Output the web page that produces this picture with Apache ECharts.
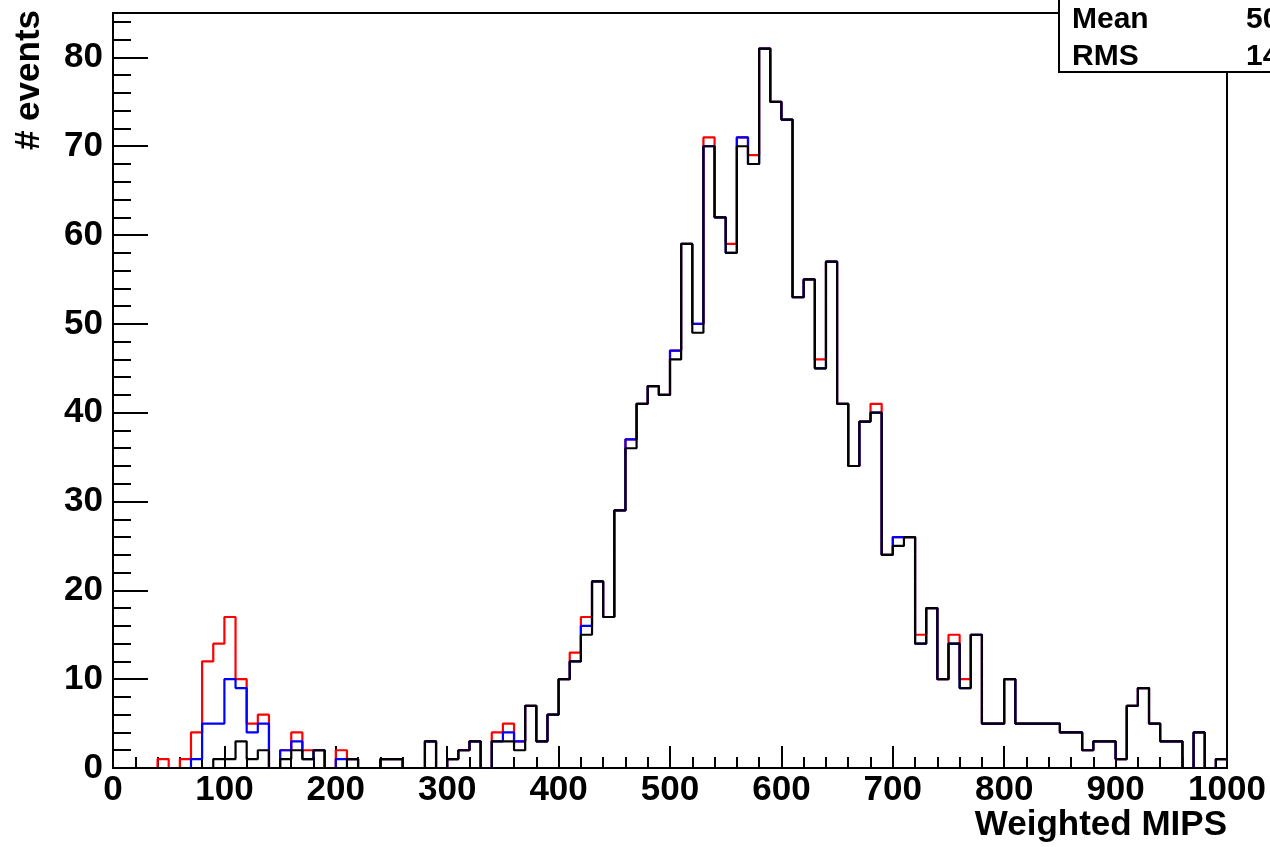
<!DOCTYPE html>
<html>
<head>
<meta charset="utf-8">
<title>Weighted MIPS</title>
<script src="https://cdn.jsdelivr.net/npm/echarts@6.0.0/dist/echarts.min.js"></script>
<style>
    html, body { margin: 0; padding: 0; background: #fff; }
    #hist-container { width: 1270px; height: 847px; }
</style>
</head>
<body>
<div id="hist-container"></div>
<script>
// 100 bins of 10 MIPS from 0 to 1000
var BIN_LOW = 0;
var BIN_WIDTH = 10;

// red histogram (drawn first)
var redCounts = [
    0, 0, 0, 0, 1, 0, 1, 4, 12, 14,
    17, 10, 5, 6, 0, 2, 4, 2, 2, 0,
    2, 1, 0, 0, 1, 1, 0, 0, 3, 0,
    1, 2, 3, 0, 4, 5, 3, 7, 3, 6,
    10, 13, 17, 21, 17, 29, 37, 41, 43, 42,
    47, 59, 50, 71, 62, 59, 71, 69, 81, 75,
    73, 53, 55, 46, 57, 41, 34, 39, 41, 24,
    26, 26, 15, 18, 10, 15, 10, 15, 5, 5,
    10, 5, 5, 5, 5, 4, 4, 2, 3, 3,
    1, 7, 9, 5, 3, 3, 0, 4, 0, 1
];
// blue histogram
var blueCounts = [
    0, 0, 0, 0, 0, 0, 0, 1, 5, 5,
    10, 9, 4, 5, 0, 2, 3, 1, 2, 0,
    1, 1, 0, 0, 1, 1, 0, 0, 3, 0,
    1, 2, 3, 0, 3, 4, 3, 7, 3, 6,
    10, 12, 16, 21, 17, 29, 37, 41, 43, 42,
    47, 59, 50, 70, 62, 58, 71, 68, 81, 75,
    73, 53, 55, 45, 57, 41, 34, 39, 40, 24,
    26, 26, 14, 18, 10, 14, 9, 15, 5, 5,
    10, 5, 5, 5, 5, 4, 4, 2, 3, 3,
    1, 7, 9, 5, 3, 3, 0, 4, 0, 1
];
// black histogram (drawn last, on top)
var blackCounts = [
    0, 0, 0, 0, 0, 0, 0, 0, 0, 1,
    1, 3, 1, 2, 0, 1, 2, 1, 2, 0,
    0, 1, 0, 0, 1, 1, 0, 0, 3, 0,
    1, 2, 3, 0, 3, 3, 2, 7, 3, 6,
    10, 12, 15, 21, 17, 29, 36, 41, 43, 42,
    46, 59, 49, 70, 62, 58, 70, 68, 81, 75,
    73, 53, 55, 45, 57, 41, 34, 39, 40, 24,
    25, 26, 14, 18, 10, 14, 9, 15, 5, 5,
    10, 5, 5, 5, 5, 4, 4, 2, 3, 3,
    1, 7, 9, 5, 3, 3, 0, 4, 0, 1
];

// stats box (only the start of the numbers fits in the picture)
var statNames = ['Mean', 'RMS'];
var statValues = ['50', '14'];

var X_MIN = 0, X_MAX = 1000, X_STEP = 100;
var Y_MIN = 0, Y_MAX = 85, Y_STEP = 10, Y_MINOR = 2;

(function() {
    var FONT = '"Liberation Sans", Arial, Helvetica, sans-serif';
    var extend = function(a, b) { for (var k in b) { a[k] = b[k]; } return a; };
    var hist = {
        /**
         * 页面初始化
         */
        pageReady: function() {
            var me = this;
            var myChart = echarts.init(document.getElementById('hist-container'), null, { renderer: 'canvas' });
            myChart.setOption(me._option());
        },
        /**
         * turn bin counts into step points: [left edge, count] + closing point
         */
        _steps: function(counts) {
            var pts = counts.map(function(v, i) {
                return [BIN_LOW + i * BIN_WIDTH, v];
            });
            pts.push([BIN_LOW + counts.length * BIN_WIDTH, counts[counts.length - 1]]);
            return pts;
        },
        _series: function(name, counts, color) {
            return {
                name: name,
                type: 'line',
                step: 'end',
                symbol: 'none',
                silent: true,
                lineStyle: { color: color, width: 2.2 },
                data: this._steps(counts)
            };
        },
        _statsBox: function() {
            var els = [{
                type: 'rect',
                z: 100,
                shape: { x: 1059, y: -4, width: 260, height: 76 },
                style: { fill: '#fff', stroke: '#000', lineWidth: 2 }
            }];
            statNames.forEach(function(n, i) {
                var y = 20 + i * 37;
                els.push({
                    type: 'text', z: 101, x: 1072, y: y,
                    style: { text: n, font: 'bold 30px ' + FONT, fill: '#000', textAlign: 'left', textVerticalAlign: 'middle' }
                });
                els.push({
                    type: 'text', z: 101, x: 1246, y: y,
                    style: { text: statValues[i], font: 'bold 30px ' + FONT, fill: '#000', textAlign: 'left', textVerticalAlign: 'middle' }
                });
            });
            return els;
        },
        _option: function() {
            var me = this;
            var labelStyle = { color: '#000', fontFamily: FONT, fontWeight: 'bold', fontSize: 35 };
            return {
                animation: false,
                backgroundColor: '#fff',
                grid: {
                    left: 113, right: 43, top: 13, bottom: 79,
                    containLabel: false,
                    outerBoundsMode: 'none',
                    show: true, borderColor: '#000', borderWidth: 2, backgroundColor: 'transparent'
                },
                xAxis: {
                    type: 'value',
                    min: X_MIN, max: X_MAX, interval: X_STEP,
                    name: 'Weighted MIPS',
                    nameLocation: 'end',
                    nameGap: 0,
                    nameMoveOverlap: false,
                    nameTextStyle: {
                        color: '#000', fontFamily: FONT, fontWeight: 'bold', fontSize: 35,
                        align: 'right', verticalAlign: 'top', padding: [40, 0, 0, 0]
                    },
                    axisLine: { show: true, onZero: false, lineStyle: { color: '#000', width: 2 } },
                    axisTick: { show: true, inside: true, length: 22, lineStyle: { color: '#000', width: 2 } },
                    minorTick: { show: true, splitNumber: 5, length: 11, lineStyle: { color: '#000', width: 2 } },
                    splitLine: { show: false },
                    axisLabel: extend({ margin: 5, showMaxLabel: true, hideOverlap: false, formatter: function(v) { return String(v); } }, labelStyle)
                },
                yAxis: [{
                    type: 'value',
                    min: Y_MIN, max: Y_MAX, interval: Y_STEP,
                    name: '# events',
                    nameLocation: 'end',
                    nameGap: 3,
                    nameRotate: 90,
                    nameMoveOverlap: false,
                    nameTextStyle: {
                        color: '#000', fontFamily: FONT, fontWeight: 'bold', fontSize: 35,
                        align: 'right', verticalAlign: 'bottom', padding: [0, 0, 66, 0]
                    },
                    axisLine: { show: true, onZero: false, lineStyle: { color: '#000', width: 2 } },
                    axisTick: { show: true, inside: true, length: 35, lineStyle: { color: '#000', width: 2 } },
                    splitLine: { show: false },
                    axisLabel: extend({ margin: 10, showMaxLabel: false }, labelStyle)
                }, {
                    // minor ticks every 2 events
                    type: 'value',
                    position: 'left',
                    min: Y_MIN, max: Y_MAX, interval: Y_MINOR,
                    axisLine: { show: false },
                    axisTick: { show: true, inside: true, length: 18, lineStyle: { color: '#000', width: 2 } },
                    splitLine: { show: false },
                    axisLabel: { show: false }
                }],
                graphic: me._statsBox(),
                series: [
                    me._series('red', redCounts, '#ff0000'),
                    me._series('blue', blueCounts, '#0000ff'),
                    me._series('black', blackCounts, '#000000')
                ]
            };
        }
    };
    window.weighted_mips = hist;
})();
window.weighted_mips.pageReady();
</script>
</body>
</html>
